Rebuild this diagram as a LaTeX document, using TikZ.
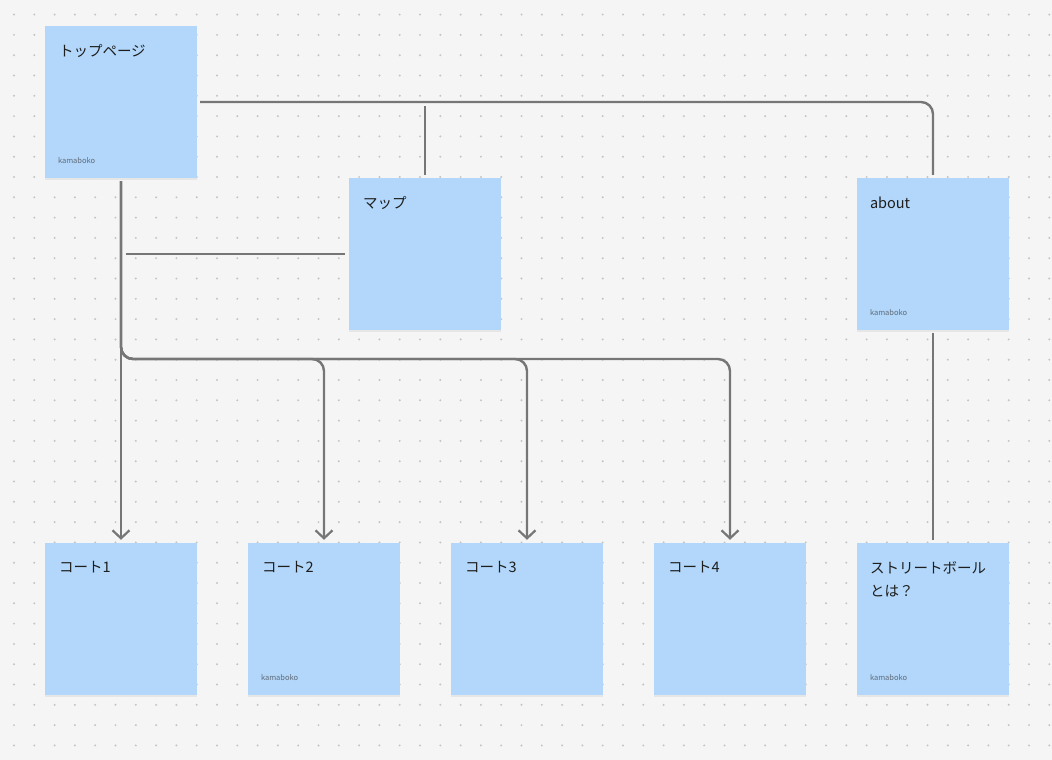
\documentclass[tikz,border=0pt]{standalone}
\usepackage{fontspec}
\setmainfont{Noto Sans CJK JP}
\usepackage{tikz}
\usetikzlibrary{arrows.meta,shadows}
\definecolor{boardbg}{HTML}{F5F5F5}
\definecolor{dotgray}{HTML}{C4C4C4}
\definecolor{stickyblue}{HTML}{B2D7FA}
\definecolor{linegray}{HTML}{767676}
\definecolor{inkdark}{HTML}{1E1E1E}
\definecolor{signgray}{HTML}{5F6B7A}
\tikzset{style={>={Straight Barb[length=8pt,width=17pt,line width=2.2pt]}}}
\tikzset{sticky/.style={rectangle,fill=stickyblue,draw=none,minimum size=152pt,inner sep=0pt,drop shadow={opacity=0.12,shadow xshift=0pt,shadow yshift=-1.5pt}}}
\tikzset{notetext/.style={anchor=north west,align=left,inner sep=0pt,text=inkdark,font=\fontsize{14.5}{23}\selectfont}}
\tikzset{notesign/.style={anchor=west,inner sep=0pt,text=signgray,font=\fontsize{7.5}{9}\selectfont}}
\tikzset{conn/.style={draw=linegray,line width=2.4pt,rounded corners=12pt}}

\begin{document}
\begin{tikzpicture}[x=1pt,y=-1pt]
    \useasboundingbox[fill=boardbg] (0,0) rectangle (1052,760);
    % dot grid
    \foreach \i in {0,...,51}
      \foreach \j in {0,...,36}
        \fill[dotgray] ({14+20.3*\i},{14.6+20.3*\j}) circle (1.1);

    \node[sticky] (top)    at (121, 102) {};
    \node[sticky] (map)    at (425, 254) {};
    \node[sticky] (about)  at (933, 254) {};
    \node[sticky] (court1) at (121, 619) {};
    \node[sticky] (court2) at (324, 619) {};
    \node[sticky] (court3) at (527, 619) {};
    \node[sticky] (court4) at (730, 619) {};
    \node[sticky] (street) at (933, 619) {};

    \node[notetext] (toptxt)    at ([shift={(14,18.5)}]top.north west)    {トップページ};
    \node[notetext] (maptxt)    at ([shift={(14,18.5)}]map.north west)    {マップ};
    \node[notetext] (abouttxt)  at ([shift={(13,18.5)}]about.north west)  {about};
    \node[notetext] (court1txt) at ([shift={(14,18.5)}]court1.north west) {コート1};
    \node[notetext] (court2txt) at ([shift={(14,18.5)}]court2.north west) {コート2};
    \node[notetext] (court3txt) at ([shift={(14,18.5)}]court3.north west) {コート3};
    \node[notetext] (court4txt) at ([shift={(14,18.5)}]court4.north west) {コート4};
    \node[notetext] (streettxt) at ([shift={(13,18.5)}]street.north west) {ストリートボール\\とは？};

    \node[notesign] (topsign)    at ([shift={(13,135)}]top.north west)    {kamaboko};
    \node[notesign] (aboutsign)  at ([shift={(13,135)}]about.north west)  {kamaboko};
    \node[notesign] (court2sign) at ([shift={(13,135)}]court2.north west) {kamaboko};
    \node[notesign] (streetsign) at ([shift={(13,135)}]street.north west) {kamaboko};

    \coordinate (mapjoin) at (map.north |- top.east);
    \coordinate (mapleft) at (126, 254);
    \coordinate (split)   at (121, 359);

    \draw[conn, shorten <=3pt, shorten >=3pt] (top.east) -| (about.north);
    \draw[conn, shorten <=4pt, shorten >=3pt] (mapjoin) -- (map.north);
    \draw[conn, shorten >=4pt] (mapleft) -- (map.west);
    \draw[conn, shorten <=3pt, shorten >=3pt] (about.south) -- (street.north);
    \draw[conn, ->, shorten <=3pt, shorten >=3pt] (top.south) -- (court1.north);
    \foreach \c in {court2,court3,court4}
      \draw[conn, ->, shorten <=3pt, shorten >=3pt] (top.south) |- (\c.north |- split) -- (\c.north);
\end{tikzpicture}
\end{document}
